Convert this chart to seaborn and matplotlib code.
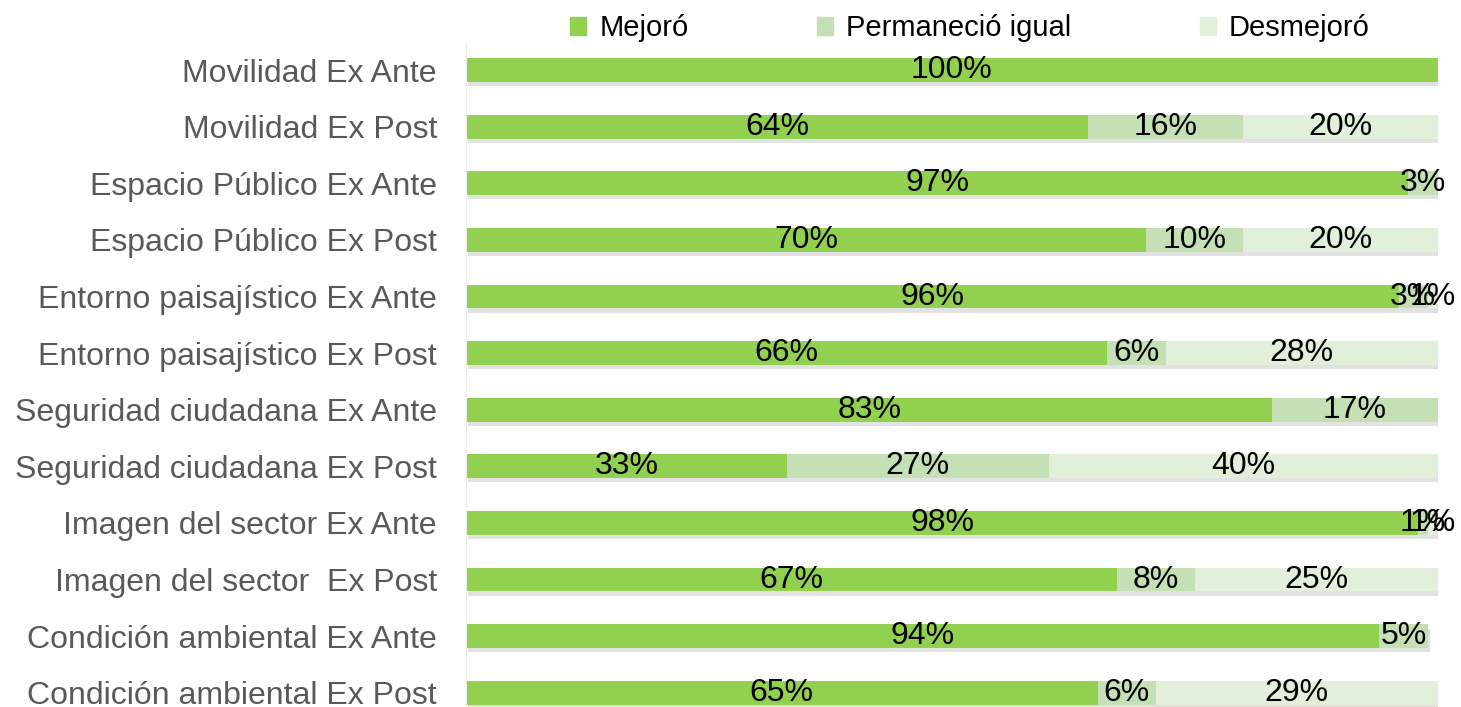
import numpy as np
import pandas as pd
import seaborn as sns
import matplotlib.pyplot as plt
import matplotlib.patches as mpatches
import matplotlib.patheffects as pe

categorias = ["Movilidad Ex Ante", "Movilidad Ex Post",
              "Espacio Público Ex Ante", "Espacio Público Ex Post",
              "Entorno paisajístico Ex Ante", "Entorno paisajístico Ex Post",
              "Seguridad ciudadana Ex Ante", "Seguridad ciudadana Ex Post",
              "Imagen del sector Ex Ante", "Imagen del sector  Ex Post",
              "Condición ambiental Ex Ante", "Condición ambiental Ex Post"]
mejoro = [100, 64, 97, 70, 96, 66, 83, 33, 98, 67, 94, 65]
permanecio = [0, 16, 3, 10, 3, 6, 17, 27, 1, 8, 5, 6]
desmejoro = [0, 20, 0, 20, 1, 28, 0, 40, 1, 25, 0, 29]

series = ["Mejoró", "Permaneció igual", "Desmejoró"]
colores = ["#92D050", "#C5E0B4", "#E2EFDA"]

df = pd.DataFrame({"Categoria": categorias, "Mejoró": mejoro,
                   "Permaneció igual": permanecio, "Desmejoró": desmejoro})
df["c1"] = df["Mejoró"]
df["c2"] = df["c1"] + df["Permaneció igual"]
df["c3"] = df["c2"] + df["Desmejoró"]

plt.rcParams['font.family'] = ['Liberation Sans', 'DejaVu Sans']

fig = plt.figure(figsize=(14.61, 7.07), dpi=100)
ax = fig.add_axes([0.319, 0.0, 0.665, 0.941])

sombra = [pe.SimplePatchShadow(offset=(1.5, -3), shadow_rgbFace="#8c8c8c", alpha=0.25), pe.Normal()]

# barras apiladas: se dibuja el acumulado de atras hacia adelante
for col, color in zip(["c3", "c2", "c1"], colores[::-1]):
    sns.barplot(data=df, y="Categoria", x=col, color=color, orient="h",
                width=0.42, ax=ax, saturation=1)

n = len(categorias)
for i, p in enumerate(ax.patches):
    if i < n:
        p.set_path_effects(sombra)

# etiquetas de datos
for i, fila in df.iterrows():
    inicio = 0
    for s in series:
        v = fila[s]
        if v > 0:
            ax.text(inicio + v / 2, i, f"{v}%", ha="center", va="center",
                    fontsize=23, color="black")
        inicio += v

ax.set_xlim(0, 100)
ax.set_ylim(11.25, -0.5)
ax.set_xlabel("")
ax.set_ylabel("")
ax.set_xticks([])
ax.tick_params(axis="y", length=0, labelsize=23, labelcolor="#595959", pad=21)
for s in ["top", "right", "bottom"]:
    ax.spines[s].set_visible(False)
ax.spines["left"].set_color("#EDEDED")

handles = [mpatches.Patch(color=c, label=s) for s, c in zip(series, colores)]
fig.legend(handles=handles, loc="center", bbox_to_anchor=(0.664, 0.96), ncol=3,
           frameon=False, fontsize=21, handlelength=0.55, handleheight=0.55,
           handletextpad=0.45, columnspacing=4.4)

plt.savefig("out.png", dpi=100)
